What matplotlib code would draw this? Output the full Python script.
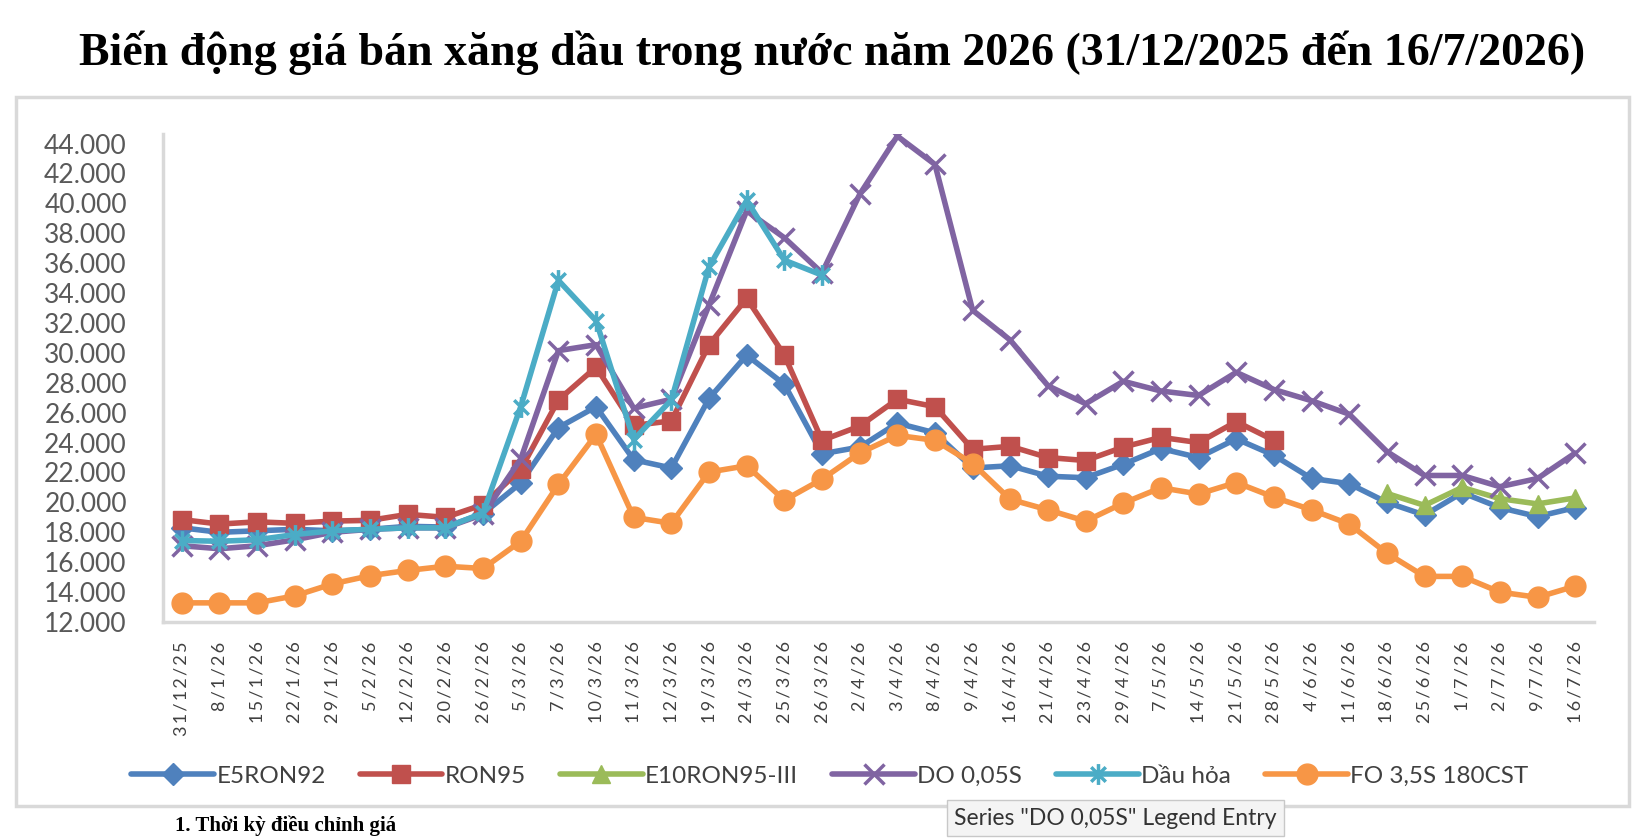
import numpy as np
import matplotlib
matplotlib.use("Agg")
import matplotlib.pyplot as plt
from matplotlib.path import Path
from matplotlib.patches import Rectangle

dates = ["31/12/25", "8/1/26", "15/1/26", "22/1/26", "29/1/26", "5/2/26", "12/2/26",
         "20/2/26", "26/2/26", "5/3/26", "7/3/26", "10/3/26", "11/3/26", "12/3/26",
         "19/3/26", "24/3/26", "25/3/26", "26/3/26", "2/4/26", "3/4/26", "8/4/26",
         "9/4/26", "16/4/26", "21/4/26", "23/4/26", "29/4/26", "7/5/26", "14/5/26",
         "21/5/26", "28/5/26", "4/6/26", "11/6/26", "18/6/26", "25/6/26", "1/7/26",
         "2/7/26", "9/7/26", "16/7/26"]

e5ron92 = [18300, 18000, 18100, 18200, 18100, 18200, 18400, 18350, 19250, 21300,
           25000, 26400, 22850, 22300, 26950, 29850, 27900, 23250, 23700, 25300,
           24650, 22300, 22450, 21750, 21650, 22550, 23600, 23000, 24250, 23150,
           21600, 21250, 20000, 19150, 20650, 19650, 19050, 19650]
ron95 = [18850, 18550, 18700, 18600, 18750, 18800, 19200, 19000, 19850, 22200,
         26850, 29050, 25150, 25450, 30550, 33650, 29850, 24150, 25100, 26900,
         26400, 23550, 23750, 23000, 22800, 23700, 24350, 24000, 25400, 24150,
         None, None, None, None, None, None, None, None]
e10ron95 = [None] * 32 + [20600, 19800, 21000, 20250, 19900, 20300]
do005s = [17100, 16900, 17100, 17500, 18000, 18200, 18300, 18300, 19200, 22900,
          30150, 30550, 26300, 26900, 33200, 39500, 37700, 35350, 40600, 44500,
          42600, 32850, 30850, 27800, 26600, 28100, 27450, 27150, 28700, 27550,
          26800, 25900, 23400, 21800, 21800, 21050, 21600, 23300]
dau_hoa = [17450, 17400, 17500, 17850, 18100, 18200, 18300, 18300, 19300, 26400,
           34850, 32150, 24200, 26850, 35750, 40200, 36200, 35200] + [None] * 20
fo = [13280, 13280, 13280, 13750, 14550, 15100, 15450, 15730, 15580, 17400,
      21200, 24550, 19000, 18600, 22030, 22450, 20150, 21550, 23300, 24480,
      24150, 22600, 20200, 19500, 18750, 19950, 20980, 20560, 21330, 20350,
      19500, 18550, 16600, 15050, 15050, 14000, 13650, 14400]

series = [
    ("E5RON92", e5ron92, "#4F81BD", "D", 11),
    ("RON95", ron95, "#C0504D", "s", 13),
    ("E10RON95-III", e10ron95, "#9BBB59", "^", 13),
    ("DO 0,05S", do005s, "#8064A2", "x", 14),
    ("Dầu hỏa", dau_hoa, "#4BACC6", "star", 15),
    ("FO 3,5S 180CST", fo, "#F79646", "o", 15),
]

# excel style star: x with a vertical bar
star = Path([(0, -1), (0, 1), (-0.7, -0.7), (0.7, 0.7), (-0.7, 0.7), (0.7, -0.7)],
            [Path.MOVETO, Path.LINETO, Path.MOVETO, Path.LINETO, Path.MOVETO, Path.LINETO])

W, H = 1644, 838
fig = plt.figure(figsize=(W / 100, H / 100), dpi=100)
fig.patch.set_facecolor("white")

fig.patches.append(Rectangle((16 / W, 1 - 806 / H), (1629 - 16) / W, (806 - 97) / H,
                             transform=fig.transFigure, fill=False,
                             edgecolor="#D9D9D9", lw=2.5, zorder=0))

ax = fig.add_axes([163 / W, 1 - 622 / H, (1594 - 163) / W, (622 - 134) / H])
x = np.arange(len(dates))
for name, vals, col, mk, ms in series:
    y = np.array([np.nan if v is None else v for v in vals], dtype=float)
    marker = star if mk == "star" else mk
    ax.plot(x, y, color=col, lw=4, marker=marker, ms=ms, mfc=col, mec=col,
            mew=2.5 if mk in ("x", "star") else 1, label=name,
            solid_capstyle="round", solid_joinstyle="round")

ax.set_xlim(-0.5, len(dates) - 0.5)
ax.set_ylim(12000, 44640)
ax.set_yticks(np.arange(12000, 44001, 2000))
ax.set_yticklabels([f"{v // 1000}.000" for v in range(12000, 44001, 2000)])
ax.set_xticks(x)
ax.set_xticklabels(["\u2009".join(d) for d in dates], rotation=90, va="top", ha="center")
for lbl in ax.get_yticklabels():
    lbl.set_family(["Lato", "DejaVu Sans"])
    lbl.set_fontsize(19)
    lbl.set_color("#595959")
for lbl in ax.get_xticklabels():
    lbl.set_family(["Lato", "DejaVu Sans"])
    lbl.set_fontsize(13)
    lbl.set_color("#404040")
ax.tick_params(axis="both", length=0)
ax.tick_params(axis="y", pad=26)
ax.tick_params(axis="x", pad=14)
for s in ("top", "right"):
    ax.spines[s].set_visible(False)
for s in ("left", "bottom"):
    ax.spines[s].set_color("#D9D9D9")
    ax.spines[s].set_linewidth(2.5)

leg = fig.legend(loc="center", bbox_to_anchor=(830 / W, 1 - 776 / H), ncol=6,
                 frameon=False, handlelength=3.4, handletextpad=0.1,
                 columnspacing=1.4, prop={"family": ["Lato", "DejaVu Sans"], "size": 17.5})
for t in leg.get_texts():
    t.set_color("#404040")

fig.text(832 / W, 1 - 53 / H,
         "Biến động giá bán xăng dầu trong nước năm 2026 (31/12/2025 đến 16/7/2026)",
         ha="center", va="center", fontsize=33, fontweight="bold",
         family="Liberation Serif", color="black")

fig.text(175 / W, 1 - 836 / H, "1. Thời kỳ điều chỉnh giá", ha="left", va="bottom",
         fontsize=15, fontweight="bold", family="Liberation Serif", color="black")

fig.text(954 / W, 1 - 818 / H, "Series \"DO 0,05S\" Legend Entry", ha="left",
         va="center", fontsize=16.5, family=["Lato", "DejaVu Sans"], color="#333333",
         bbox=dict(boxstyle="square,pad=0.32", fc="#F4F4F4", ec="#C8C8C8", lw=1))

fig.savefig("out.png", dpi=100)
